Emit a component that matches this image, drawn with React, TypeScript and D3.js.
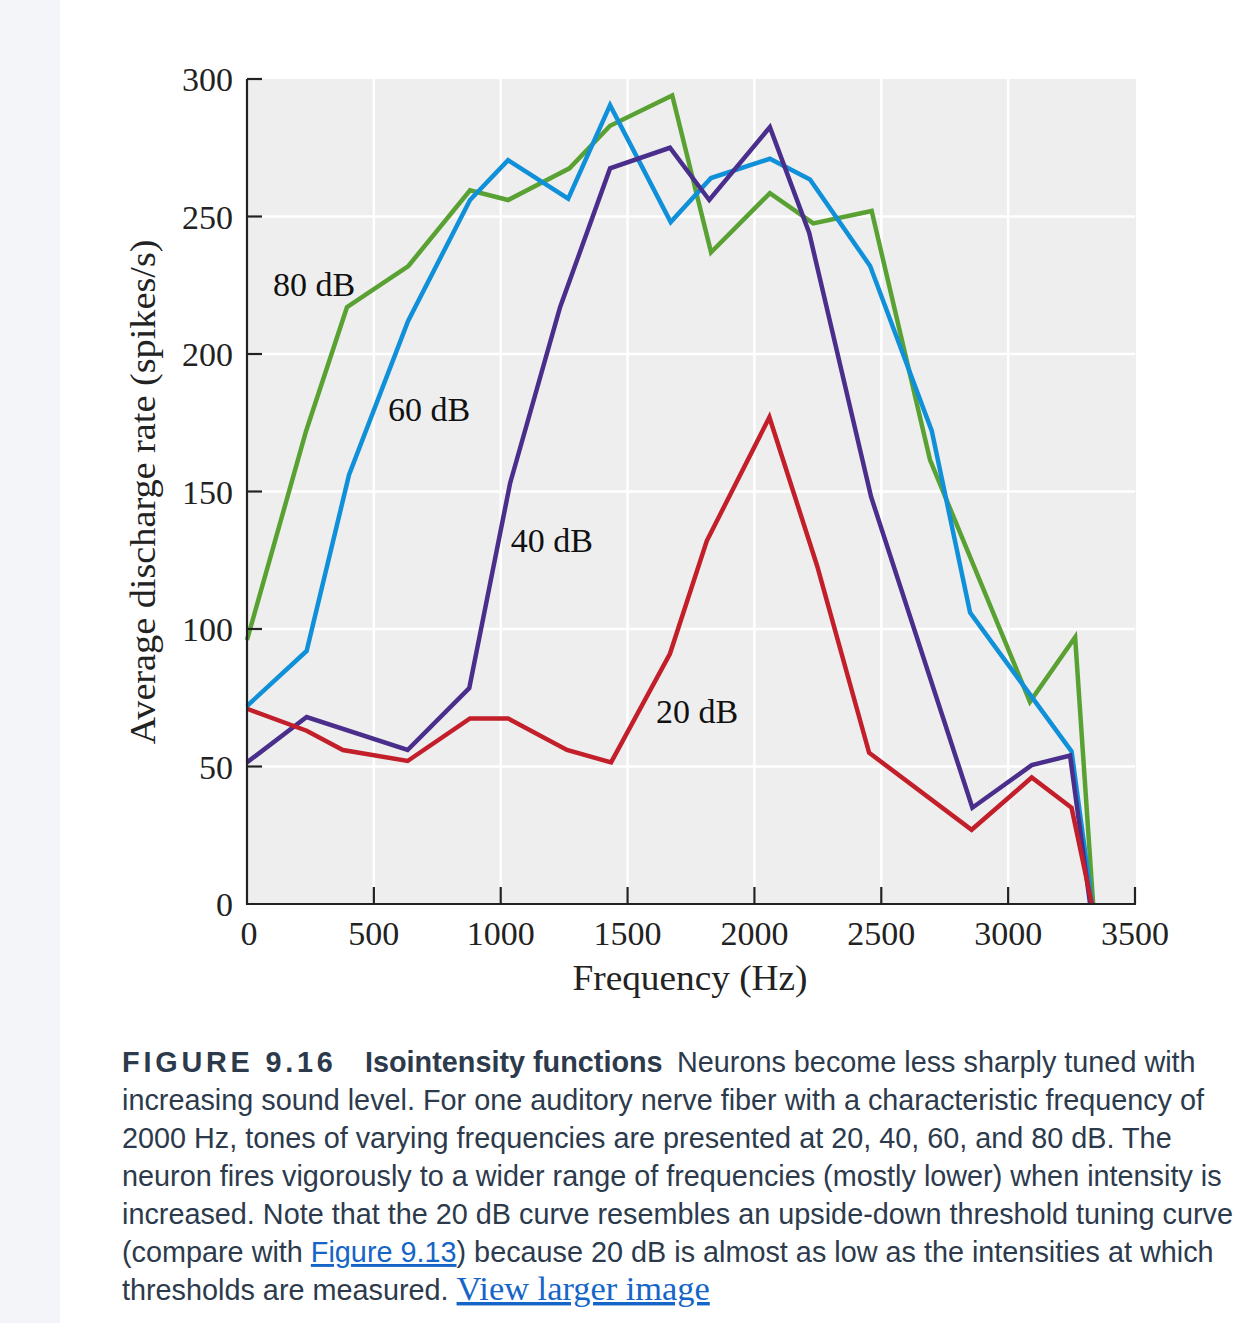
import React from "react";
import * as d3 from "d3";

// ---- data (frequency Hz, discharge rate spikes/s) ----
const series20dB: [number, number][] = [
  [0, 71], [235, 63], [378, 56], [633, 52], [879, 67.5], [1029, 67.5], [1261, 56],
  [1435, 51.5], [1667, 91], [1812, 132], [2059, 177], [2247, 123], [2452, 55],
  [2856, 27], [3093, 46], [3250, 35], [3330, 0],
];
const series40dB: [number, number][] = [
  [0, 51.5], [235, 68], [633, 56], [876, 78.5], [1037, 153], [1234, 217], [1431, 267.5],
  [1667, 275], [1822, 256], [2061, 282.5], [2216, 244], [2460, 148], [2859, 35],
  [3093, 50.5], [3244, 54], [3323, 0],
];
const series60dB: [number, number][] = [
  [0, 72], [235, 92], [402, 156], [635, 212], [879, 256], [1029, 270.5], [1266, 256.5],
  [1431, 290.5], [1670, 248], [1829, 264], [2061, 271], [2219, 263.5], [2456, 232],
  [2699, 172], [2850, 106], [3250, 55.5], [3331, 0],
];
const series80dB: [number, number][] = [
  [0, 96], [233, 172], [394, 217], [636, 232], [879, 259.5], [1029, 256], [1271, 267.5],
  [1431, 283], [1676, 294], [1829, 237], [2061, 258.5], [2232, 247.5], [2462, 252],
  [2692, 161.5], [3086, 73.5], [3264, 97], [3335, 0],
];
const seriesNames = ["20 dB", "40 dB", "60 dB", "80 dB"];
const xTicks = [0, 500, 1000, 1500, 2000, 2500, 3000, 3500];
const yTicks = [0, 50, 100, 150, 200, 250, 300];
// label anchors in data units (frequency, rate)
const labelAnchors: [number, number][] = [
  [1612, 65.8], [1040, 128], [556, 175.6], [102, 221],
];

const colors = ["#c21f2a", "#4a2e8c", "#0f90d8", "#5aa133"];
const serif = "'Liberation Serif', 'Times New Roman', serif";
const sans = "'Liberation Sans', Arial, Helvetica, sans-serif";
const textColor = "#2c3a4c";
const linkColor = "#1565c8";

export default function App() {
  const x = d3.scaleLinear().domain([0, 3500]).range([247, 1135]);
  const y = d3.scaleLinear().domain([0, 300]).range([904, 79]);
  const line = d3
    .line<[number, number]>()
    .x((d) => x(d[0]))
    .y((d) => y(d[1]));
  const allSeries = [series20dB, series40dB, series60dB, series80dB];
  const drawOrder = [3, 2, 1, 0];

  const capX = 122;
  const capY0 = 1072;
  const lh = 38;
  const fs = 28.8;

  return (
    <div style={{ position: "absolute", left: 0, top: 0 }}>
      <svg width={1247} height={1323} style={{ display: "block" }}>
        <rect x={0} y={0} width={1247} height={1323} fill="#ffffff" />
        <rect x={0} y={0} width={60} height={1323} fill="#f3f5f9" />
        {/* plot background */}
        <rect x={x(0)} y={y(300)} width={x(3500) - x(0) + 1} height={y(0) - y(300)} fill="#eeeeee" />
        {/* grid */}
        {xTicks.filter((t) => t > 0 && t < 3500).map((t) => (
          <line key={"gx" + t} x1={x(t)} x2={x(t)} y1={y(300)} y2={y(0)} stroke="#ffffff" strokeWidth={2.5} />
        ))}
        {yTicks.filter((t) => t > 0 && t < 300).map((t) => (
          <line key={"gy" + t} x1={x(0)} x2={x(3500)} y1={y(t)} y2={y(t)} stroke="#ffffff" strokeWidth={2.5} />
        ))}
        {/* series */}
        {drawOrder.map((i) => (
          <path key={"s" + i} d={line(allSeries[i]) || ""} fill="none" stroke={colors[i]} strokeWidth={4.5} strokeLinejoin="miter" />
        ))}
        {/* axes */}
        <line x1={x(0)} x2={x(0)} y1={y(300)} y2={y(0) + 1} stroke="#222" strokeWidth={2.2} />
        <line x1={x(0) - 1} x2={x(3500) + 1} y1={y(0)} y2={y(0)} stroke="#222" strokeWidth={2.2} />
        {yTicks.filter((t) => t > 0).map((t) => (
          <line key={"ty" + t} x1={x(0)} x2={x(0) + 15} y1={y(t)} y2={y(t)} stroke="#222" strokeWidth={2.2} />
        ))}
        {xTicks.filter((t) => t > 0).map((t) => (
          <line key={"tx" + t} x1={x(t)} x2={x(t)} y1={y(0)} y2={y(0) - 17} stroke="#222" strokeWidth={2.2} />
        ))}
        {/* tick labels */}
        {yTicks.map((t) => (
          <text key={"ly" + t} x={233} y={y(t) + 12} textAnchor="end" fontFamily={serif} fontSize={34} fill="#222">
            {t}
          </text>
        ))}
        {xTicks.map((t) => (
          <text key={"lx" + t} x={x(t) + (t === 0 ? 2 : 0)} y={945} textAnchor="middle" fontFamily={serif} fontSize={34} fill="#222">
            {t}
          </text>
        ))}
        {/* axis titles */}
        <text x={690} y={990} textAnchor="middle" fontFamily={serif} fontSize={35} fill="#222" textLength={235} lengthAdjust="spacingAndGlyphs">
          Frequency (Hz)
        </text>
        <text
          transform={`translate(155, 492) rotate(-90)`}
          textAnchor="middle"
          fontFamily={serif}
          fontSize={35}
          fill="#222"
          textLength={505}
          lengthAdjust="spacingAndGlyphs"
        >
          Average discharge rate (spikes/s)
        </text>
        {/* series labels */}
        {seriesNames.map((n, i) => (
          <text key={"sl" + i} x={x(labelAnchors[i][0])} y={y(labelAnchors[i][1])} fontFamily={serif} fontSize={34} fill="#111">
            {n}
          </text>
        ))}
        {/* caption */}
        <g fontFamily={sans} fontSize={fs} fill={textColor}>
          <text x={capX} y={capY0}>
            <tspan fontWeight="bold" letterSpacing={3.8}>FIGURE 9.16</tspan>
            <tspan x={365} fontWeight="bold">Isointensity functions</tspan>
            <tspan x={677}>Neurons become less sharply tuned with</tspan>
          </text>
          <text x={capX} y={capY0 + lh}>
            increasing sound level. For one auditory nerve fiber with a characteristic frequency of
          </text>
          <text x={capX} y={capY0 + 2 * lh}>
            2000 Hz, tones of varying frequencies are presented at 20, 40, 60, and 80 dB. The
          </text>
          <text x={capX} y={capY0 + 3 * lh}>
            neuron fires vigorously to a wider range of frequencies (mostly lower) when intensity is
          </text>
          <text x={capX} y={capY0 + 4 * lh}>
            increased. Note that the 20 dB curve resembles an upside-down threshold tuning curve
          </text>
          <text x={capX} y={capY0 + 5 * lh}>
            (compare with{" "}
            <tspan fill={linkColor} style={{ textDecoration: "underline" }}>
              Figure 9.13
            </tspan>
            ) because 20 dB is almost as low as the intensities at which
          </text>
          <text x={capX} y={capY0 + 6 * lh}>
            thresholds are measured.{" "}
            <tspan fill={linkColor} fontFamily={serif} fontSize={34.4} style={{ textDecoration: "underline" }}>
              View larger image
            </tspan>
          </text>
        </g>
      </svg>
    </div>
  );
}
